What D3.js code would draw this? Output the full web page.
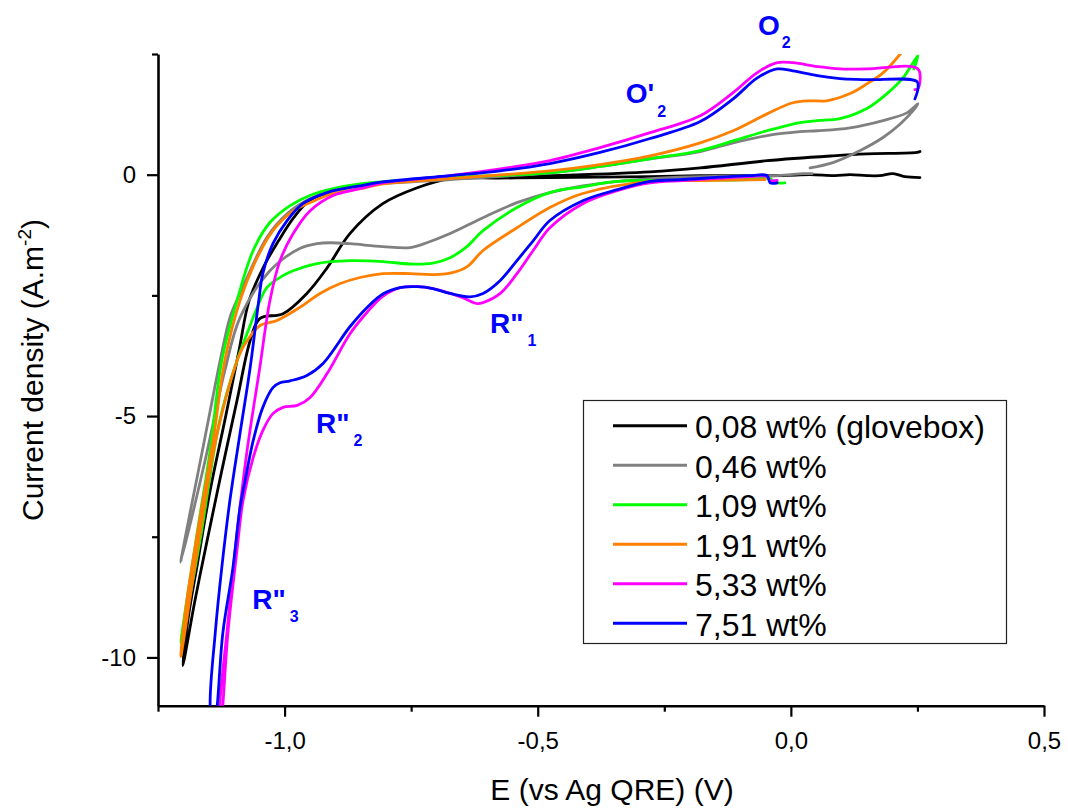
<!DOCTYPE html>
<html lang="en">
<head>
  <meta charset="UTF-8">
  <title>Cyclic voltammograms</title>
  <script src="https://cdnjs.cloudflare.com/ajax/libs/d3/7.8.5/d3.min.js"></script>
  <style>
    body { margin: 0; background: #fff; }
    text { font-family: Arial, "Liberation Sans", sans-serif; fill: #000; }
    .axis path, .axis line { stroke: #000; }
    .axis text { font-size: 24px; }
    .note { font-weight: bold; fill: #0000ff; font-size: 28px; }
  </style>
</head>
<body>
<svg id="chart" width="1068" height="809"></svg>
<script>
// [E (V), current density (A.m-2)] along each scan
const cv008 = [[0.255,-0.06],[0.225,-0.04],[0.202,0.02],[0.176,-0.02],[0.150,-0.02],[0.117,0.0],[0.087,-0.02],[0.038,0.0],[-0.015,-0.02],[-0.114,-0.02],[-0.179,-0.02],[-0.278,-0.04],[-0.476,-0.06],[-0.574,-0.07],[-0.673,-0.08],[-0.738,-0.27],[-0.806,-0.6],[-0.871,-1.22],[-0.916,-1.93],[-0.956,-2.46],[-1.003,-2.88],[-1.049,-2.98],[-1.068,-3.44],[-1.094,-4.68],[-1.124,-6.13],[-1.153,-7.58],[-1.177,-8.82],[-1.201,-10.17],
  [-1.191,-9.23],[-1.171,-7.99],[-1.147,-6.54],[-1.118,-5.09],[-1.09,-3.64],[-1.07,-2.61],[-1.04,-1.88],[-1.012,-1.37],[-0.982,-0.89],[-0.952,-0.54],[-0.916,-0.37],[-0.881,-0.27],[-0.812,-0.17],[-0.673,-0.08],[-0.476,-0.02],[-0.278,0.06],[-0.179,0.14],[-0.047,0.29],[0.083,0.39],[0.150,0.43],[0.249,0.46],[0.255,0.48]];

const cv046 = [[0.042,0.02],[0.024,0.02],[-0.027,-0.02],[-0.179,-0.04],[-0.278,-0.08],[-0.411,-0.23],[-0.476,-0.37],[-0.541,-0.58],[-0.608,-0.89],[-0.673,-1.22],[-0.719,-1.41],[-0.752,-1.51],[-0.806,-1.49],[-0.871,-1.43],[-0.910,-1.41],[-0.936,-1.43],[-0.970,-1.53],[-1.029,-1.99],[-1.088,-2.96],[-1.118,-4.06],[-1.157,-5.92],[-1.205,-8.03],
  [-1.187,-7.02],[-1.165,-5.86],[-1.143,-4.68],[-1.126,-3.79],[-1.108,-2.96],[-1.092,-2.55],[-1.074,-2.13],[-1.035,-1.3],[-0.995,-0.81],[-0.950,-0.5],[-0.904,-0.33],[-0.851,-0.23],[-0.673,-0.1],[-0.476,0.04],[-0.377,0.17],[-0.278,0.33],[-0.179,0.48],[-0.114,0.66],[-0.047,0.81],[0.018,0.89],[0.052,0.91],[0.117,0.97],[0.182,1.12],[0.229,1.28],[0.251,1.47],
  [0.241,1.32],[0.216,1.05],[0.182,0.77],[0.137,0.5],[0.083,0.25],[0.038,0.14]];

const cv109 = [[-0.012,-0.17],[-0.032,-0.16],[-0.041,-0.08],[-0.081,-0.1],[-0.213,-0.12],[-0.343,-0.14],[-0.411,-0.25],[-0.476,-0.37],[-0.541,-0.68],[-0.608,-1.16],[-0.640,-1.49],[-0.673,-1.72],[-0.707,-1.83],[-0.752,-1.85],[-0.806,-1.8],[-0.871,-1.78],[-0.936,-1.84],[-0.983,-1.99],[-1.003,-2.09],[-1.035,-2.34],[-1.054,-2.75],[-1.074,-3.29],[-1.094,-3.85],[-1.128,-5.09],[-1.167,-7.58],[-1.205,-9.7],
  [-1.175,-7.58],[-1.147,-5.71],[-1.124,-3.85],[-1.094,-2.61],[-1.062,-1.57],[-1.029,-0.99],[-0.989,-0.64],[-0.950,-0.43],[-0.904,-0.29],[-0.851,-0.19],[-0.673,-0.06],[-0.476,0.04],[-0.377,0.17],[-0.278,0.33],[-0.179,0.5],[-0.114,0.7],[-0.047,0.91],[0.018,1.08],[0.052,1.12],[0.097,1.16],[0.150,1.37],[0.190,1.68],[0.221,2.0],[0.251,2.46],[0.243,2.19]];

const cv191 = [[-0.051,-0.1],[-0.179,-0.12],[-0.278,-0.14],[-0.411,-0.39],[-0.476,-0.68],[-0.541,-1.1],[-0.608,-1.57],[-0.640,-1.91],[-0.673,-2.04],[-0.707,-2.07],[-0.752,-2.05],[-0.806,-2.05],[-0.851,-2.13],[-0.891,-2.26],[-0.930,-2.46],[-0.970,-2.75],[-1.015,-3.02],[-1.049,-3.13],[-1.074,-3.44],[-1.088,-3.7],[-1.133,-5.36],[-1.167,-7.43],[-1.205,-9.98],
  [-1.193,-8.82],[-1.167,-7.1],[-1.141,-5.51],[-1.118,-3.85],[-1.088,-2.61],[-1.054,-1.72],[-1.023,-1.16],[-0.983,-0.75],[-0.950,-0.58],[-0.904,-0.39],[-0.851,-0.29],[-0.806,-0.19],[-0.673,-0.08],[-0.476,0.08],[-0.377,0.21],[-0.278,0.39],[-0.179,0.66],[-0.114,0.91],[-0.047,1.26],[0.004,1.49],[0.038,1.53],[0.071,1.53],[0.117,1.68],[0.150,1.88],[0.182,2.11],[0.216,2.5],[0.229,2.69]];

const cv533 = [[-0.027,-0.12],[-0.041,-0.12],[-0.047,-0.04],[-0.081,-0.04],[-0.213,-0.12],[-0.278,-0.17],[-0.343,-0.33],[-0.411,-0.6],[-0.476,-1.1],[-0.509,-1.57],[-0.541,-2.05],[-0.574,-2.46],[-0.608,-2.65],[-0.620,-2.67],[-0.648,-2.55],[-0.673,-2.46],[-0.707,-2.36],[-0.738,-2.32],[-0.772,-2.34],[-0.806,-2.52],[-0.837,-2.85],[-0.871,-3.3],[-0.916,-4.12],[-0.950,-4.62],[-0.975,-4.78],[-1.003,-4.82],[-1.023,-4.95],[-1.043,-5.3],[-1.062,-5.86],[-1.082,-6.75],[-1.094,-7.78],[-1.112,-9.5],[-1.122,-11.0],[-1.127,-11.6],
  [-1.128,-11.0],[-1.114,-9.5],[-1.094,-7.43],[-1.074,-5.71],[-1.049,-4.0],[-1.029,-2.61],[-1.009,-1.78],[-0.983,-1.22],[-0.950,-0.75],[-0.904,-0.43],[-0.851,-0.29],[-0.806,-0.17],[-0.673,-0.02],[-0.574,0.12],[-0.476,0.29],[-0.377,0.56],[-0.278,0.87],[-0.179,1.22],[-0.114,1.7],[-0.067,2.11],[-0.027,2.32],[0.004,2.32],[0.052,2.24],[0.097,2.19],[0.150,2.19],[0.251,2.19],[0.251,1.78],[0.245,1.76]];

const cv751 = [[-0.027,-0.17],[-0.041,-0.17],[-0.047,-0.02],[-0.081,-0.02],[-0.213,-0.1],[-0.278,-0.14],[-0.343,-0.31],[-0.411,-0.54],[-0.476,-0.95],[-0.509,-1.37],[-0.541,-1.78],[-0.574,-2.19],[-0.608,-2.46],[-0.634,-2.53],[-0.673,-2.46],[-0.707,-2.36],[-0.738,-2.32],[-0.772,-2.34],[-0.806,-2.47],[-0.837,-2.75],[-0.871,-3.15],[-0.924,-3.91],[-0.956,-4.16],[-0.989,-4.27],[-1.009,-4.31],[-1.023,-4.41],[-1.043,-4.82],[-1.062,-5.51],[-1.078,-6.34],[-1.088,-6.9],[-1.102,-8.14],[-1.122,-9.5],[-1.133,-11.0],[-1.14,-11.6],
  [-1.147,-11.0],[-1.137,-9.5],[-1.124,-8.14],[-1.108,-6.75],[-1.088,-5.36],[-1.068,-4.0],[-1.051,-2.61],[-1.043,-2.05],[-1.023,-1.43],[-0.995,-0.95],[-0.964,-0.6],[-0.916,-0.37],[-0.851,-0.23],[-0.806,-0.15],[-0.673,-0.02],[-0.574,0.08],[-0.476,0.23],[-0.377,0.46],[-0.278,0.75],[-0.179,1.1],[-0.114,1.57],[-0.067,2.0],[-0.027,2.19],[0.004,2.15],[0.052,2.05],[0.097,1.99],[0.150,1.97],[0.249,1.93],[0.251,1.78],[0.245,1.57]];

const seriesLabels = ["0,08 wt% (glovebox)", "0,46 wt%", "1,09 wt%", "1,91 wt%", "5,33 wt%", "7,51 wt%"];
const seriesColors = ["#000000", "#808080", "#00ff00", "#ff8000", "#ff00ff", "#0000ff"];
const xMajor = [-1.0, -0.5, 0.0, 0.5];
const xMinor = [-1.25, -0.75, -0.25, 0.25];
const yMajor = [0, -5, -10];
const yMinor = [2.5, -2.5, -7.5];

const allSeries = [cv008, cv046, cv109, cv191, cv533, cv751];

const svg = d3.select("#chart");
const plotLeft = 158, plotRight = 1044, plotTop = 54, plotBottom = 705.7;

const x = d3.scaleLinear().domain([-1.25, 0.5]).range([plotLeft, plotRight]);
const y = d3.scaleLinear().domain([-11, 2.5]).range([plotBottom, plotTop]);

const comma = d => d3.format(".1f")(d).replace(".", ",").replace("\u2212", "-");

// axes
const gx = svg.append("g").attr("class", "axis").attr("transform", `translate(0,${plotBottom})`);
gx.call(d3.axisBottom(x).tickValues(xMajor).tickSize(11).tickSizeOuter(0).tickPadding(15).tickFormat(comma));
gx.append("g").call(d3.axisBottom(x).tickValues(xMinor).tickSize(6).tickSizeOuter(0).tickFormat(""))
  .select(".domain").remove();

const gy = svg.append("g").attr("class", "axis").attr("transform", `translate(${plotLeft},0)`);
gy.call(d3.axisLeft(y).tickValues(yMajor).tickSize(11).tickSizeOuter(0).tickPadding(11).tickFormat(d => String(d)));
gy.append("g").call(d3.axisLeft(y).tickValues(yMinor).tickSize(6).tickSizeOuter(0).tickFormat(""))
  .select(".domain").remove();

svg.selectAll(".axis .domain").attr("stroke-width", 2.6);
svg.selectAll(".axis .tick line").attr("stroke-width", 2.2);
svg.selectAll(".axis text").attr("fill", "#000").style("font-size", "24px");

// axis titles
svg.append("text")
  .attr("x", 612).attr("y", 800)
  .attr("text-anchor", "middle")
  .style("font-size", "30px")
  .text("E (vs Ag QRE) (V)");

const yt = svg.append("text")
  .attr("transform", "translate(43,370) rotate(-90)")
  .attr("text-anchor", "middle")
  .style("font-size", "30px");
yt.append("tspan").text("Current density (A.m");
yt.append("tspan").attr("dy", -12).style("font-size", "19px").text("-2");
yt.append("tspan").attr("dy", 12).text(")");

// curves
svg.append("clipPath").attr("id", "plotClip")
  .append("rect").attr("x", plotLeft).attr("y", plotTop)
  .attr("width", plotRight - plotLeft).attr("height", plotBottom - plotTop);

const line = d3.line()
  .x(d => x(d[0]))
  .y(d => y(d[1]))
  .curve(d3.curveCatmullRom.alpha(0.5));

svg.append("g").attr("clip-path", "url(#plotClip)")
  .selectAll("path")
  .data(allSeries)
  .join("path")
  .attr("d", line)
  .attr("fill", "none")
  .attr("stroke", (d, i) => seriesColors[i])
  .attr("stroke-width", 2.8)
  .attr("stroke-linejoin", "round")
  .attr("stroke-linecap", "round");

// peak labels
const notes = [
  { main: "O", sub: "2", e: -0.065, j: 2.894, dx: 2, dy: 13 },
  { main: "O'", sub: "2", e: -0.326, j: 1.485, dx: 3, dy: 14 },
  { main: "R\"", sub: "1", e: -0.594, j: -3.279, dx: 4, dy: 13 },
  { main: "R\"", sub: "2", e: -0.938, j: -5.351, dx: 4, dy: 13 },
  { main: "R\"", sub: "3", e: -1.064, j: -8.997, dx: 4, dy: 13 }
];
notes.forEach(n => {
  const t = svg.append("text").attr("class", "note")
    .attr("x", x(n.e)).attr("y", y(n.j));
  t.append("tspan").text(n.main);
  t.append("tspan").attr("dx", n.dx).attr("dy", n.dy).style("font-size", "16px").text(n.sub);
});

// legend
const lg = svg.append("g");
lg.append("rect")
  .attr("x", 583.5).attr("y", 400.5).attr("width", 423).attr("height", 243)
  .attr("fill", "#fff").attr("stroke", "#222").attr("stroke-width", 1.2);
seriesLabels.forEach((lab, i) => {
  const cy = 425.7 + i * 39.5;
  lg.append("line").attr("x1", 613).attr("x2", 687).attr("y1", cy).attr("y2", cy)
    .attr("stroke", seriesColors[i]).attr("stroke-width", 3);
  lg.append("text").attr("x", 695).attr("y", cy + 12.6)
    .style("font-size", "32px").text(lab);
});
</script>
</body>
</html>
